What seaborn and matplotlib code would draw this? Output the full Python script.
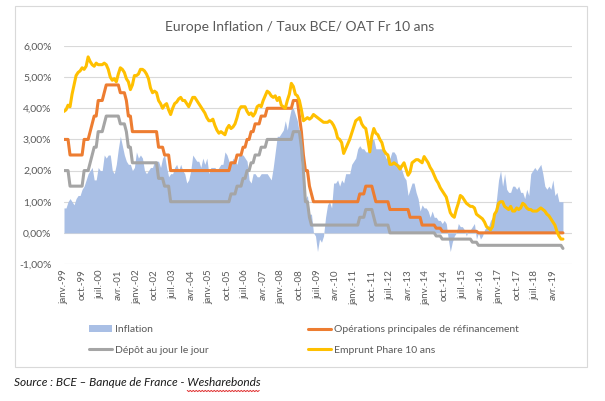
import numpy as np
import pandas as pd
import matplotlib
matplotlib.use("Agg")
import matplotlib.pyplot as plt
import seaborn as sns
from matplotlib.patches import Rectangle, Patch
from matplotlib.lines import Line2D

# Monthly values, janv. 1999 -> sept. 2019 (% per year)
inflation = [
    0.8, 0.8, 1.0, 1.1, 1.0, 0.9, 1.1, 1.2, 1.2, 1.4, 1.5, 1.7,      # 1999
    1.9, 2.0, 2.1, 1.7, 1.7, 2.1, 2.0, 2.0, 2.5, 2.4, 2.5, 2.5,      # 2000
    2.0, 1.9, 2.2, 2.7, 3.1, 2.8, 2.5, 2.3, 2.2, 2.2, 2.0, 2.1,      # 2001
    2.6, 2.4, 2.5, 2.4, 2.0, 1.9, 2.0, 2.1, 2.1, 2.3, 2.3, 2.3,      # 2002
    2.1, 2.4, 2.5, 2.1, 1.8, 1.9, 1.9, 2.1, 2.2, 2.0, 2.2, 2.0,      # 2003
    1.9, 1.6, 1.7, 2.0, 2.5, 2.4, 2.3, 2.3, 2.1, 2.4, 2.2, 2.4,      # 2004
    1.9, 2.1, 2.1, 2.1, 2.0, 2.1, 2.2, 2.2, 2.6, 2.5, 2.3, 2.2,      # 2005
    2.4, 2.3, 2.2, 2.5, 2.5, 2.5, 2.4, 2.3, 1.7, 1.6, 1.9, 1.9,      # 2006
    1.8, 1.8, 1.9, 1.9, 1.9, 1.9, 1.8, 1.7, 2.1, 2.6, 3.1, 3.1,      # 2007
    3.2, 3.3, 3.6, 3.3, 3.7, 4.0, 4.0, 3.8, 3.6, 3.2, 2.1, 1.6,      # 2008
    1.1, 1.2, 0.6, 0.6, 0.0, -0.1, -0.6, -0.2, -0.3, -0.1, 0.5, 0.9, # 2009
    1.0, 0.8, 1.6, 1.6, 1.7, 1.5, 1.7, 1.6, 1.9, 1.9, 1.9, 2.2,      # 2010
    2.3, 2.4, 2.7, 2.8, 2.7, 2.7, 2.6, 2.6, 3.0, 3.0, 3.0, 2.7,      # 2011
    2.7, 2.7, 2.7, 2.6, 2.4, 2.4, 2.4, 2.6, 2.6, 2.5, 2.2, 2.2,      # 2012
    2.0, 1.8, 1.7, 1.2, 1.4, 1.6, 1.6, 1.3, 1.1, 0.7, 0.9, 0.8,      # 2013
    0.8, 0.7, 0.5, 0.7, 0.5, 0.5, 0.4, 0.4, 0.3, 0.4, 0.3, -0.2,     # 2014
    -0.6, -0.3, -0.1, 0.0, 0.3, 0.2, 0.2, 0.1, -0.1, 0.1, 0.1, 0.2,  # 2015
    0.3, -0.2, 0.0, -0.2, -0.1, 0.1, 0.2, 0.2, 0.4, 0.5, 0.6, 1.1,   # 2016
    1.7, 2.0, 1.5, 1.9, 1.4, 1.3, 1.3, 1.5, 1.5, 1.4, 1.5, 1.3,      # 2017
    1.3, 1.1, 1.4, 1.2, 1.9, 2.0, 2.1, 2.0, 2.1, 2.2, 1.9, 1.5,      # 2018
    1.4, 1.5, 1.4, 1.7, 1.2, 1.3, 1.0, 1.0, 1.0,                     # 2019
]

refi = [
    3.0, 3.0, 3.0, 2.5, 2.5, 2.5, 2.5, 2.5, 2.5, 2.5, 3.0, 3.0,
    3.0, 3.25, 3.5, 3.75, 3.75, 4.25, 4.25, 4.25, 4.5, 4.75, 4.75, 4.75,
    4.75, 4.75, 4.75, 4.75, 4.5, 4.5, 4.5, 4.25, 3.75, 3.75, 3.25, 3.25,
    3.25, 3.25, 3.25, 3.25, 3.25, 3.25, 3.25, 3.25, 3.25, 3.25, 3.25, 2.75,
    2.75, 2.75, 2.5, 2.5, 2.5, 2.0, 2.0, 2.0, 2.0, 2.0, 2.0, 2.0,
    2.0, 2.0, 2.0, 2.0, 2.0, 2.0, 2.0, 2.0, 2.0, 2.0, 2.0, 2.0,
    2.0, 2.0, 2.0, 2.0, 2.0, 2.0, 2.0, 2.0, 2.0, 2.0, 2.0, 2.25,
    2.25, 2.25, 2.5, 2.5, 2.5, 2.75, 2.75, 3.0, 3.0, 3.25, 3.25, 3.5,
    3.5, 3.5, 3.75, 3.75, 3.75, 4.0, 4.0, 4.0, 4.0, 4.0, 4.0, 4.0,
    4.0, 4.0, 4.0, 4.0, 4.0, 4.0, 4.25, 4.25, 4.25, 3.75, 3.25, 2.5,
    2.0, 2.0, 1.5, 1.25, 1.0, 1.0, 1.0, 1.0, 1.0, 1.0, 1.0, 1.0,
    1.0, 1.0, 1.0, 1.0, 1.0, 1.0, 1.0, 1.0, 1.0, 1.0, 1.0, 1.0,
    1.0, 1.0, 1.0, 1.25, 1.25, 1.25, 1.5, 1.5, 1.5, 1.5, 1.25, 1.0,
    1.0, 1.0, 1.0, 1.0, 1.0, 1.0, 0.75, 0.75, 0.75, 0.75, 0.75, 0.75,
    0.75, 0.75, 0.75, 0.75, 0.5, 0.5, 0.5, 0.5, 0.5, 0.5, 0.25, 0.25,
    0.25, 0.25, 0.25, 0.25, 0.25, 0.15, 0.15, 0.15, 0.05, 0.05, 0.05, 0.05,
    0.05, 0.05, 0.05, 0.05, 0.05, 0.05, 0.05, 0.05, 0.05, 0.05, 0.05, 0.05,
    0.05, 0.05, 0.0, 0.0, 0.0, 0.0, 0.0, 0.0, 0.0, 0.0, 0.0, 0.0,
    0.0, 0.0, 0.0, 0.0, 0.0, 0.0, 0.0, 0.0, 0.0, 0.0, 0.0, 0.0,
    0.0, 0.0, 0.0, 0.0, 0.0, 0.0, 0.0, 0.0, 0.0, 0.0, 0.0, 0.0,
    0.0, 0.0, 0.0, 0.0, 0.0, 0.0, 0.0, 0.0, 0.0,
]

depot = [
    2.0, 2.0, 2.0, 1.5, 1.5, 1.5, 1.5, 1.5, 1.5, 1.5, 2.0, 2.0,
    2.0, 2.25, 2.5, 2.75, 2.75, 3.25, 3.25, 3.25, 3.5, 3.75, 3.75, 3.75,
    3.75, 3.75, 3.75, 3.75, 3.5, 3.5, 3.5, 3.25, 2.75, 2.75, 2.25, 2.25,
    2.25, 2.25, 2.25, 2.25, 2.25, 2.25, 2.25, 2.25, 2.25, 2.25, 2.25, 1.75,
    1.75, 1.75, 1.5, 1.5, 1.5, 1.0, 1.0, 1.0, 1.0, 1.0, 1.0, 1.0,
    1.0, 1.0, 1.0, 1.0, 1.0, 1.0, 1.0, 1.0, 1.0, 1.0, 1.0, 1.0,
    1.0, 1.0, 1.0, 1.0, 1.0, 1.0, 1.0, 1.0, 1.0, 1.0, 1.0, 1.25,
    1.25, 1.25, 1.5, 1.5, 1.5, 1.75, 1.75, 2.0, 2.0, 2.25, 2.25, 2.5,
    2.5, 2.5, 2.75, 2.75, 2.75, 3.0, 3.0, 3.0, 3.0, 3.0, 3.0, 3.0,
    3.0, 3.0, 3.0, 3.0, 3.0, 3.0, 3.25, 3.25, 3.25, 3.25, 2.75, 2.0,
    1.0, 1.0, 0.5, 0.25, 0.25, 0.25, 0.25, 0.25, 0.25, 0.25, 0.25, 0.25,
    0.25, 0.25, 0.25, 0.25, 0.25, 0.25, 0.25, 0.25, 0.25, 0.25, 0.25, 0.25,
    0.25, 0.25, 0.25, 0.5, 0.5, 0.5, 0.75, 0.75, 0.75, 0.75, 0.5, 0.25,
    0.25, 0.25, 0.25, 0.25, 0.25, 0.25, 0.0, 0.0, 0.0, 0.0, 0.0, 0.0,
    0.0, 0.0, 0.0, 0.0, 0.0, 0.0, 0.0, 0.0, 0.0, 0.0, 0.0, 0.0,
    0.0, 0.0, 0.0, 0.0, 0.0, -0.1, -0.1, -0.1, -0.2, -0.2, -0.2, -0.2,
    -0.2, -0.2, -0.2, -0.2, -0.2, -0.2, -0.2, -0.2, -0.2, -0.2, -0.2, -0.3,
    -0.3, -0.3, -0.4, -0.4, -0.4, -0.4, -0.4, -0.4, -0.4, -0.4, -0.4, -0.4,
    -0.4, -0.4, -0.4, -0.4, -0.4, -0.4, -0.4, -0.4, -0.4, -0.4, -0.4, -0.4,
    -0.4, -0.4, -0.4, -0.4, -0.4, -0.4, -0.4, -0.4, -0.4, -0.4, -0.4, -0.4,
    -0.4, -0.4, -0.4, -0.4, -0.4, -0.4, -0.4, -0.4, -0.5,
]

oat10 = [
    3.90, 3.95, 4.10, 4.05, 4.45, 4.75, 5.05, 5.15, 5.20, 5.30, 5.25, 5.35,
    5.65, 5.50, 5.40, 5.35, 5.45, 5.40, 5.40, 5.40, 5.45, 5.40, 5.25, 5.00,
    4.90, 4.95, 4.85, 5.10, 5.30, 5.25, 5.15, 4.95, 4.85, 4.60, 4.75, 5.05,
    5.05, 5.10, 5.25, 5.25, 5.20, 5.10, 4.95, 4.65, 4.50, 4.55, 4.50, 4.25,
    4.15, 4.00, 4.10, 4.15, 3.95, 3.80, 4.00, 4.15, 4.20, 4.30, 4.35, 4.25,
    4.25, 4.15, 4.05, 4.20, 4.35, 4.35, 4.25, 4.15, 4.05, 3.95, 3.85, 3.70,
    3.60, 3.60, 3.65, 3.45, 3.30, 3.20, 3.25, 3.20, 3.15, 3.35, 3.45, 3.35,
    3.40, 3.50, 3.70, 3.95, 4.05, 4.05, 4.05, 3.90, 3.80, 3.85, 3.75, 3.85,
    4.05, 4.10, 4.05, 4.25, 4.40, 4.55, 4.50, 4.40, 4.35, 4.40, 4.25, 4.35,
    4.10, 4.05, 4.00, 4.25, 4.45, 4.80, 4.70, 4.45, 4.40, 4.25, 3.95, 3.60,
    3.65, 3.70, 3.65, 3.70, 3.80, 3.75, 3.70, 3.65, 3.60, 3.55, 3.55, 3.55,
    3.60, 3.55, 3.45, 3.30, 3.05, 3.00, 2.90, 2.55, 2.70, 2.85, 3.00, 3.20,
    3.40, 3.60, 3.65, 3.70, 3.50, 3.40, 3.35, 3.00, 2.60, 3.10, 3.35, 3.20,
    3.15, 3.00, 2.90, 2.65, 2.55, 2.50, 2.20, 2.20, 2.25, 2.20, 2.15, 2.05,
    2.15, 2.25, 2.05, 1.85, 1.95, 2.25, 2.30, 2.35, 2.35, 2.30, 2.25, 2.45,
    2.35, 2.25, 2.10, 2.00, 1.85, 1.70, 1.60, 1.45, 1.35, 1.25, 1.15, 0.90,
    0.65, 0.55, 0.50, 0.75, 0.95, 1.20, 1.15, 1.05, 0.95, 0.90, 0.85, 0.85,
    0.80, 0.60, 0.55, 0.50, 0.45, 0.35, 0.20, 0.15, 0.10, 0.20, 0.60, 0.70,
    0.95, 1.00, 1.00, 0.85, 0.80, 0.75, 0.85, 0.70, 0.70, 0.80, 0.75, 0.80,
    0.95, 0.90, 0.80, 0.75, 0.75, 0.70, 0.70, 0.70, 0.75, 0.80, 0.75, 0.70,
    0.60, 0.55, 0.45, 0.35, 0.25, 0.05, -0.10, -0.20, -0.20,
]

mois_fr = ["janv.", "févr.", "mars", "avr.", "mai", "juin",
           "juil.", "août", "sept.", "oct.", "nov.", "déc."]

TEXT = "#595959"
GRID = "#D9D9D9"
C_INFL = "#A9BFE5"
C_REFI = "#ED7D31"
C_DEPOT = "#A5A5A5"
C_OAT = "#FFC000"

dates = pd.date_range("1999-01-01", periods=len(inflation), freq="MS")
df = pd.DataFrame({
    "idx": np.arange(len(dates)),
    "Inflation": inflation,
    "Refi": refi,
    "Depot": depot,
    "OAT": oat10,
})

sns.set_theme(style="white")
plt.rcParams["font.family"] = ["Lato", "DejaVu Sans"]

W, H = 605, 401
fig = plt.figure(figsize=(W / 100, H / 100), dpi=100)
ax = fig.add_axes([64 / W, 1 - 264 / H, (572 - 64) / W, (264 - 46) / H])

# area for inflation, lines for the rates
ax.fill_between(df["idx"], df["Inflation"], 0, color=C_INFL, lw=0, zorder=2)
sns.lineplot(data=df, x="idx", y="Refi", color=C_REFI, lw=2.2, ax=ax, zorder=3)
sns.lineplot(data=df, x="idx", y="Depot", color=C_DEPOT, lw=2.2, ax=ax, zorder=3)
sns.lineplot(data=df, x="idx", y="OAT", color=C_OAT, lw=2.2, ax=ax, zorder=4)

ax.set_ylim(-1, 6)
ax.set_xlim(0, 252.5)
ax.set_yticks(range(-1, 7))
ax.set_yticklabels([f"{v:.2f}%".replace(".", ",") for v in range(-1, 7)],
                   fontsize=7.5, color=TEXT)
ticks = list(range(0, len(dates), 9))
ax.set_xticks(ticks)
ax.set_xticklabels([f"{mois_fr[dates[i].month - 1]}-{dates[i].year % 100:02d}" for i in ticks],
                   rotation=90, fontsize=7, color=TEXT)
ax.tick_params(axis="x", length=0, pad=4)
ax.tick_params(axis="y", length=0, pad=9)
ax.set_xlabel("")
ax.set_ylabel("")
ax.yaxis.grid(True, color=GRID, lw=0.8, zorder=0)
ax.set_axisbelow(True)
for s in ax.spines.values():
    s.set_visible(False)

fig.text(300 / W, 1 - 27 / H, "Europe Inflation / Taux BCE/ OAT Fr 10 ans",
         ha="center", va="center", fontsize=10, color=TEXT)

handles = [
    Patch(facecolor=C_INFL, edgecolor="none", label="Inflation"),
    Line2D([], [], color=C_DEPOT, lw=2.2, label="Dépôt au jour le jour"),
    Line2D([], [], color=C_REFI, lw=2.2, label="Opérations principales de réfinancement"),
    Line2D([], [], color=C_OAT, lw=2.2, label="Emprunt Phare 10 ans"),
]
fig.legend(handles=handles, ncol=2, loc="upper left",
           bbox_to_anchor=(80 / W, 1 - 316 / H), frameon=False,
           fontsize=7.5, labelcolor=TEXT, handlelength=2.2, handleheight=0.6,
           handletextpad=0.3, columnspacing=9.5, labelspacing=1.1)

# chart frame
fig.patches.append(Rectangle((15 / W, 1 - 367 / H), (587 - 15) / W, (367 - 6) / H,
                             transform=fig.transFigure, fill=False,
                             edgecolor=GRID, lw=0.8))

# source line, with the spell-check underline under the last word
prefix = "Source : BCE – Banque de France - "
word = "Wesharebonds"
src = fig.text(14 / W, 1 - 383 / H, prefix + word, ha="left", va="center",
               fontsize=8.6, style="italic", color="#1a1a1a")
fig.canvas.draw()
rend = fig.canvas.get_renderer()
tmp = fig.text(14 / W, 1 - 383 / H, prefix, ha="left", va="center",
               fontsize=8.6, style="italic")
x0 = tmp.get_window_extent(rend).x1
tmp.remove()
x1 = src.get_window_extent(rend).x1
yb = H - 391
zx = np.arange(x0, x1, 1.5)
zy = yb + np.where(np.arange(len(zx)) % 2 == 0, 0.6, -0.6)
fig.add_artist(Line2D(zx, zy, transform=None, color="#E03030", lw=0.7))

fig.savefig("out.png", dpi=100)
